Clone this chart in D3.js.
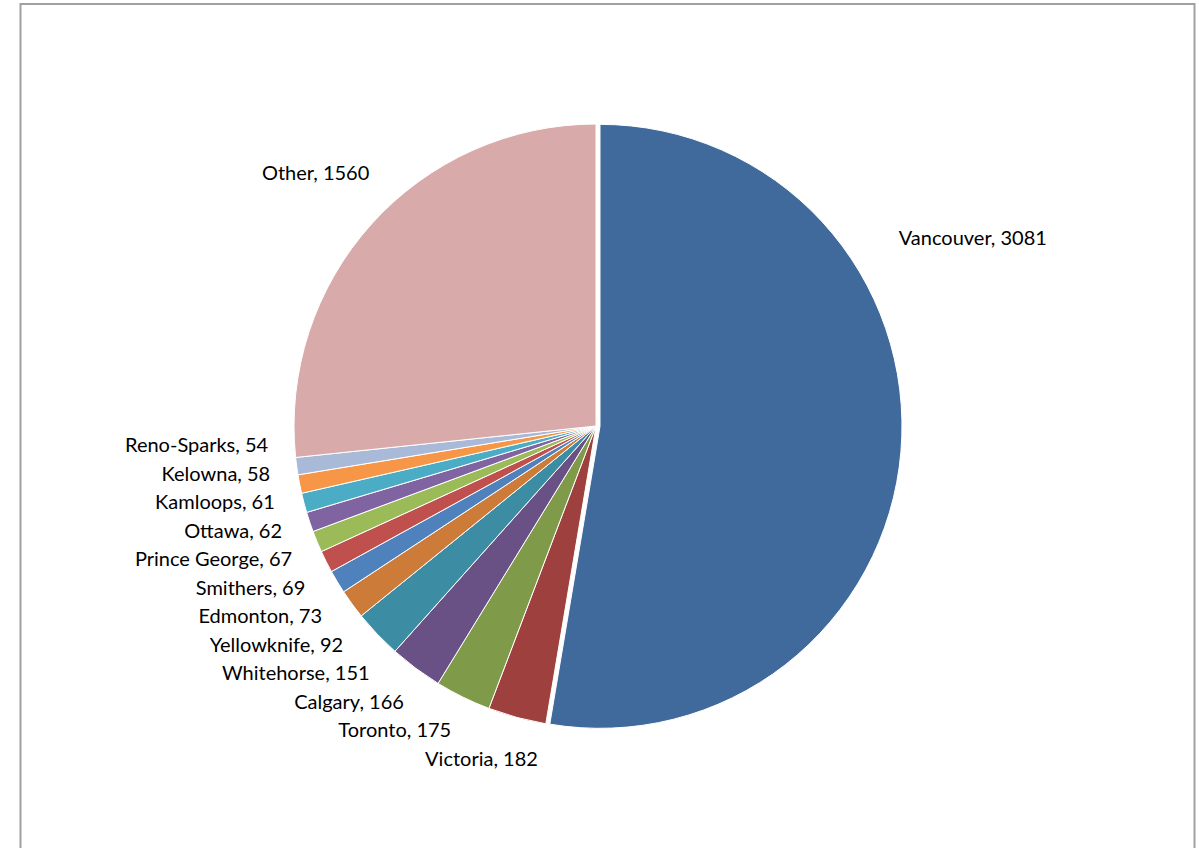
<!DOCTYPE html>
<html>
<head>
<meta charset="utf-8">
<script src="https://cdnjs.cloudflare.com/ajax/libs/d3/7.8.5/d3.min.js"></script>
<style>
  html, body { margin: 0; padding: 0; background: #fff; }
  svg text { font-family: Lato, "Liberation Sans", sans-serif; font-size: 20px; fill: #000; }
</style>
</head>
<body>
<svg id="chart" width="1199" height="848"></svg>
<script>
// slices, clockwise from 12 o'clock
var cities = ["Vancouver", "Victoria", "Toronto", "Calgary", "Whitehorse", "Yellowknife",
    "Edmonton", "Smithers", "Prince George", "Ottawa", "Kamloops", "Kelowna", "Reno-Sparks", "Other"];
var counts = [3081, 182, 175, 166, 151, 92, 73, 69, 67, 62, 61, 58, 54, 1560];
var colors = ["#416a9c", "#9e413e", "#7f9a48", "#695185", "#3c8da3", "#cc7b38",
    "#4f81bd", "#c0504d", "#9bbb59", "#8064a2", "#4bacc6", "#f79646", "#a9b9d8", "#d9aaaa"];

var svg = d3.select('#chart'),
    cx = 596, cy = 426, radius = 302,
    labelR = radius + 20,
    explode = 4;

// chart frame
svg.append("rect")
    .attr("x", 20.5).attr("y", 4)
    .attr("width", 1174).attr("height", 900)
    .attr("fill", "none")
    .attr("stroke", "#a0a0a0")
    .attr("stroke-width", 2);

var data = cities.map(function (c, i) {
    return { city: c, count: counts[i], color: colors[i] };
});

var pie = d3.pie().sort(null).value(function (d) { return d.count; });
var arc = d3.arc().innerRadius(0).outerRadius(radius);
var arcs = pie(data);

var g = svg.append("g").attr("transform", "translate(" + cx + "," + cy + ")");

function offsetOf(d) {
    // the biggest slice is pulled out a little
    if (d.index !== 0) return [0, 0];
    var a = (d.startAngle + d.endAngle) / 2;
    return [explode * Math.sin(a), -explode * Math.cos(a)];
}

g.selectAll("path")
    .data(arcs)
    .enter()
    .append("path")
    .attr("d", arc)
    .attr("fill", function (d) { return d.data.color; })
    .attr("stroke", "#fff")
    .attr("stroke-width", 1)
    .attr("transform", function (d) {
        var o = offsetOf(d);
        return "translate(" + o[0] + "," + o[1] + ")";
    });

// labels: place outside, then spread the crowded lower left side along the circle
var labels = g.selectAll("text.lbl")
    .data(arcs)
    .enter()
    .append("text")
    .attr("class", "lbl")
    .text(function (d) { return d.data.city + ", " + d.data.count; });

var lh = 20, spacing = 28.5;

function nearestDist(X, Y, w, h) {
    var nx = Math.max(X - w / 2, Math.min(0, X + w / 2)),
        ny = Math.max(Y - h / 2, Math.min(0, Y + h / 2));
    return Math.sqrt(nx * nx + ny * ny);
}

var items = [];
labels.each(function (d) {
    var span = d.endAngle - d.startAngle;
    var big = span > Math.PI;
    var a = big ? d.startAngle + span / 3 : (d.startAngle + d.endAngle) / 2;
    var below = Math.cos(a) < 0;
    var left = Math.sin(a) < 0;
    var w = this.getComputedTextLength();
    var o = offsetOf(d);
    var it = { node: this, w: w, left: left, below: below };
    if (below) {
        var px = labelR * Math.sin(a), py = -labelR * Math.cos(a);
        it.x = left ? px - w : px;
        it.y = py + lh / 2;
    } else {
        // box centre on the ray, pushed out until it clears the target radius
        var target = labelR + (big ? 26 : 10), lo = 0, hi = 800;
        for (var k = 0; k < 40; k++) {
            var m = (lo + hi) / 2;
            if (nearestDist(m * Math.sin(a), -m * Math.cos(a), w, lh) < target) lo = m; else hi = m;
        }
        it.x = o[0] + hi * Math.sin(a) - w / 2;
        it.y = o[1] - hi * Math.cos(a);
    }
    items.push(it);
});

var leftItems = items.filter(function (it) { return it.left && it.below; });
leftItems.sort(function (a, b) { return a.y - b.y; });
for (var iter = 0; iter < 300; iter++) {
    var moved = false;
    for (var i = 1; i < leftItems.length; i++) {
        var p = leftItems[i - 1], q = leftItems[i];
        var ov = spacing - (q.y - p.y);
        if (ov > 0.01) { p.y -= ov / 2; q.y += ov / 2; moved = true; }
    }
    if (!moved) break;
}
var slideR = labelR + 6;
leftItems.forEach(function (it) {
    var t = it.y - lh / 2, b = it.y + lh / 2;
    var yn = Math.max(t, Math.min(0, b));
    var dx = Math.sqrt(Math.max(0, slideR * slideR - yn * yn));
    it.x = -dx - it.w;
});

items.forEach(function (it) {
    d3.select(it.node)
        .attr("x", it.x)
        .attr("y", it.y)
        .attr("dy", "0.35em");
});
</script>
</body>
</html>
